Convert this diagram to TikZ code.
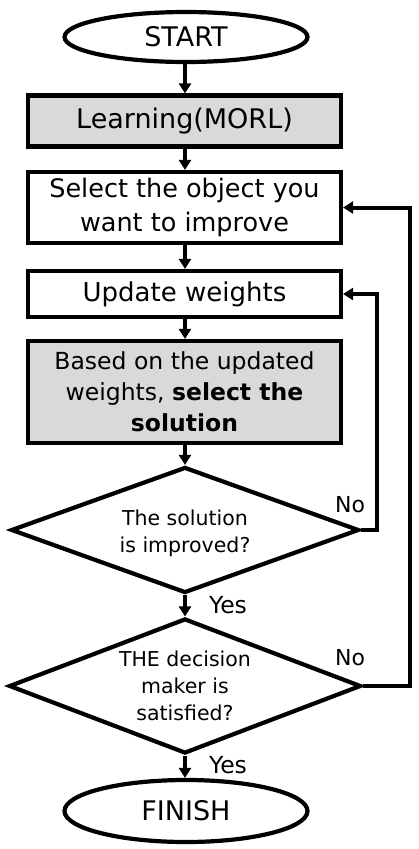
\documentclass[tikz,border=0pt]{standalone}
\usepackage{fontspec}
\setmainfont{DejaVu Sans}
\usetikzlibrary{shapes.geometric,arrows.meta}
\definecolor{boxgray}{HTML}{D9D9D9}
\tikzset{
  base/.style={draw=black,line width=4.2pt,inner sep=0pt,align=center,text=black},
  term/.style={base,ellipse,minimum width=243pt,font=\fontsize{27}{30}\selectfont},
  proc/.style={base,rectangle,minimum width=313pt},
  gproc/.style={proc,fill=boxgray},
  dia/.style={base,diamond,aspect=2.7},
  ann/.style={inner sep=0pt},
  flow/.style={line width=4pt,-{Triangle[length=10pt,width=12pt]}},
}
\begin{document}
\begin{tikzpicture}[x=1pt,y=-1pt]
\useasboundingbox (0,0) rectangle (418,849);
\node[term,minimum height=50pt] (start) at (186,37) {START};
\node[gproc,minimum height=51pt,font=\fontsize{27}{30}\selectfont] (learn) at (184.5,121) {Learning(MORL)};
\node[proc,minimum height=71pt,font=\fontsize{25.5}{34}\selectfont] (select) at (184.5,207.5) {Select the object you\\want to improve};
\node[proc,minimum height=46pt,font=\fontsize{26}{30}\selectfont] (update) at (184.5,294) {Update weights};
\node[gproc,minimum height=102pt,font=\fontsize{23.5}{31}\selectfont] (based) at (184.5,392) {Based on the updated\\weights, \textbf{select the}\\\textbf{solution}};
\node[dia,minimum width=348pt,minimum height=126pt] (d1) at (185,530) {};
\node[font=\fontsize{20.5}{27}\selectfont,align=center] (t1) at (185,533) {The solution\\is improved?};
\node[dia,minimum width=352pt,minimum height=135pt] (d2) at (185,686) {};
\node[font=\fontsize{20.5}{27}\selectfont,align=center] (t2) at (185,686) {THE decision\\maker is\\satisfied?};
\node[term,minimum height=62pt] (finish) at (186,811) {FINISH};
\node[ann,font=\fontsize{22}{26}\selectfont] (no1) at (350,505) {No};
\node[ann,font=\fontsize{23.5}{26}\selectfont] (yes1) at (228,605) {Yes};
\node[ann,font=\fontsize{22}{26}\selectfont] (no2) at (350,658) {No};
\node[ann,font=\fontsize{23.5}{26}\selectfont] (yes2) at (228,765) {Yes};
\coordinate (r1) at (377,530);
\coordinate (r2) at (410,686);
\draw[flow] (start.south -| 185,0) -- (learn.north -| 185,0);
\draw[flow] (learn.south -| 185,0) -- (select.north -| 185,0);
\draw[flow] (select.south -| 185,0) -- (update.north -| 185,0);
\draw[flow] (update.south -| 185,0) -- (based.north -| 185,0);
\draw[flow] (based.south -| 185,0) -- (d1.north);
\draw[flow] (d1.south) -- (d2.north);
\draw[flow] (d2.south) -- (finish.north -| 185,0);
\draw[flow] (d1.east) -- (r1) |- (update.east);
\draw[flow] (d2.east) -- (r2) |- (select.east);
\end{tikzpicture}
\end{document}
